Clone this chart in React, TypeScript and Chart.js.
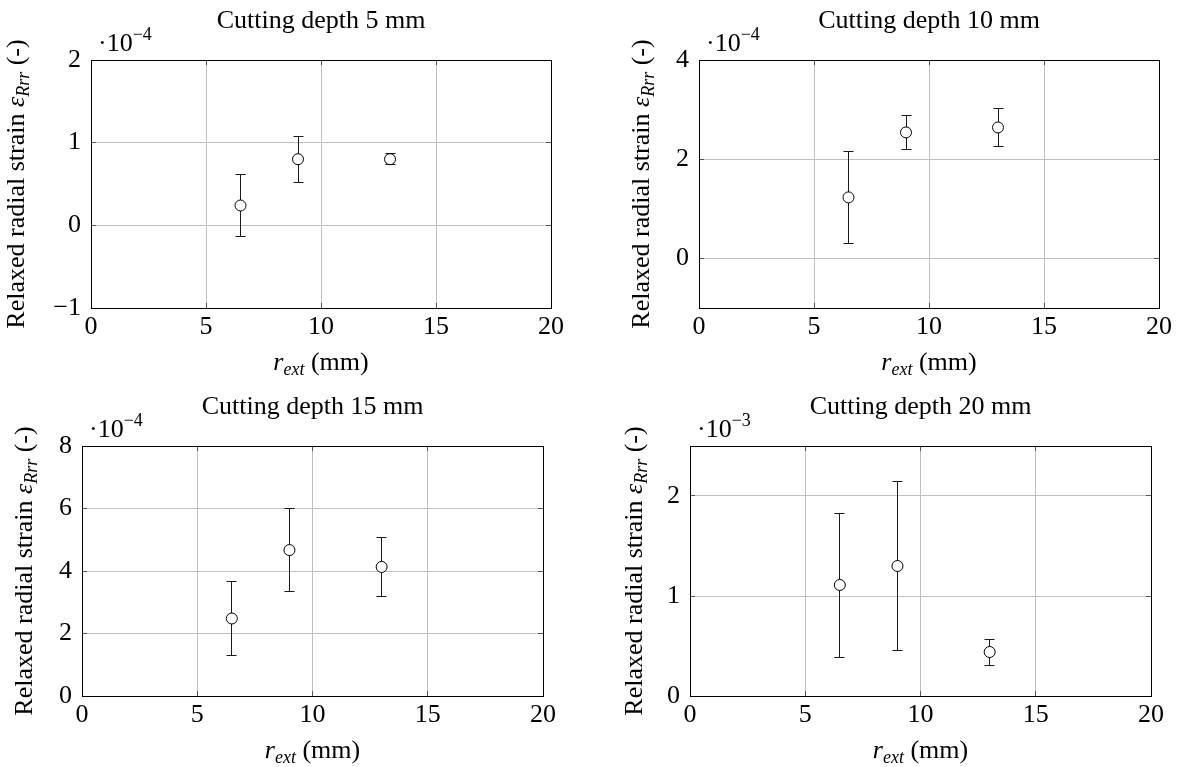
import { useEffect, useRef } from "react";
import { Chart, registerables } from "chart.js";

Chart.register(...registerables);

// ---------------- data ----------------
const radiusPositions = [6.5, 9, 13]; // r_ext (mm)
const xTickValues = [0, 5, 10, 15, 20];

const depthTitles = [
  "Cutting depth 5 mm",
  "Cutting depth 10 mm",
  "Cutting depth 15 mm",
  "Cutting depth 20 mm",
];

// strain values in units of 10^exponent
const depth5Strain = [0.24, 0.8, 0.8];
const depth5Error = [0.375, 0.28, 0.068];
const depth10Strain = [1.23, 2.54, 2.64];
const depth10Error = [0.925, 0.34, 0.385];
const depth15Strain = [2.48, 4.67, 4.13];
const depth15Error = [1.18, 1.32, 0.94];
const depth20Strain = [1.11, 1.3, 0.44];
const depth20Error = [0.72, 0.84, 0.13];

const strainExponents = [-4, -4, -4, -3];

const yTicks5 = [-1, 0, 1, 2];
const yTicks10 = [0, 2, 4];
const yTicks15 = [0, 2, 4, 6, 8];
const yTicks20 = [0, 1, 2];

const yRange5 = [-1, 2];
const yRange10 = [-1, 4];
const yRange15 = [0, 8];
const yRange20 = [0, 2.5];

// ---------------- layout / style ----------------
const FAMILY = '"Liberation Serif", "Times New Roman", Times, serif';
const FS = 26;
const SUB = 18;

type Area = { left: number; top: number; right: number; bottom: number };
type PanelDef = {
  title: string;
  values: number[];
  errors: number[];
  exponent: number;
  yTicks: number[];
  yRange: number[];
  canvasLeft: number;
  canvasTop: number;
  w: number;
  h: number;
  area: Area;
  yLabelOffset: number;
};

const panels: PanelDef[] = [
  {
    title: depthTitles[0], values: depth5Strain, errors: depth5Error, exponent: strainExponents[0],
    yTicks: yTicks5, yRange: yRange5, canvasLeft: 0, canvasTop: 0, w: 591, h: 384,
    area: { left: 91, top: 60, right: 551, bottom: 308 }, yLabelOffset: 67,
  },
  {
    title: depthTitles[1], values: depth10Strain, errors: depth10Error, exponent: strainExponents[1],
    yTicks: yTicks10, yRange: yRange10, canvasLeft: 591, canvasTop: 0, w: 591, h: 384,
    area: { left: 108, top: 60, right: 568, bottom: 308 }, yLabelOffset: 50,
  },
  {
    title: depthTitles[2], values: depth15Strain, errors: depth15Error, exponent: strainExponents[2],
    yTicks: yTicks15, yRange: yRange15, canvasLeft: 0, canvasTop: 384, w: 591, h: 383,
    area: { left: 82, top: 62, right: 543, bottom: 312 }, yLabelOffset: 50,
  },
  {
    title: depthTitles[3], values: depth20Strain, errors: depth20Error, exponent: strainExponents[3],
    yTicks: yTicks20, yRange: yRange20, canvasLeft: 591, canvasTop: 384, w: 591, h: 383,
    area: { left: 99, top: 62, right: 560, bottom: 312 }, yLabelOffset: 48,
  },
];

const Y_SCALE_W = 60;
const X_SCALE_H = 40;

type Part = { text: string; size: number; italic?: boolean; dy?: number };

function fontOf(p: Part) {
  return `${p.italic ? "italic " : ""}${p.size}px ${FAMILY}`;
}

function drawParts(ctx: CanvasRenderingContext2D, parts: Part[], x: number, y: number, center: boolean) {
  ctx.textAlign = "left";
  ctx.textBaseline = "alphabetic";
  let total = 0;
  const widths = parts.map((p) => {
    ctx.font = fontOf(p);
    const w = ctx.measureText(p.text).width;
    total += w;
    return w;
  });
  let cx = center ? x - total / 2 : x;
  parts.forEach((p, i) => {
    ctx.font = fontOf(p);
    ctx.fillText(p.text, cx, y + (p.dy || 0));
    cx += widths[i];
  });
}

const align = (p: number) => Math.round(p - 0.5) + 0.5;

function fmt(v: number) {
  return v < 0 ? "\u2212" + Math.abs(v) : String(v);
}

function makeDecor(def: PanelDef) {
  return {
    id: "panelDecor",
    beforeDatasetsDraw(chart: any) {
      const ctx: CanvasRenderingContext2D = chart.ctx;
      const xs = chart.scales.x;
      const ys = chart.scales.y;
      ctx.save();
      ctx.strokeStyle = "#1a1a1a";
      ctx.lineWidth = 1;
      def.values.forEach((v, i) => {
        const px = align(xs.getPixelForValue(radiusPositions[i]));
        const pt = ys.getPixelForValue(v + def.errors[i]);
        const pb = ys.getPixelForValue(v - def.errors[i]);
        ctx.beginPath();
        ctx.moveTo(px, pt);
        ctx.lineTo(px, pb);
        ctx.moveTo(px - 5, align(pt));
        ctx.lineTo(px + 5, align(pt));
        ctx.moveTo(px - 5, align(pb));
        ctx.lineTo(px + 5, align(pb));
        ctx.stroke();
      });
      ctx.restore();
    },
    afterDraw(chart: any) {
      const ctx: CanvasRenderingContext2D = chart.ctx;
      const a = chart.chartArea;
      const xs = chart.scales.x;
      const ys = chart.scales.y;
      ctx.save();
      // inner tick marks
      ctx.strokeStyle = "#555";
      ctx.lineWidth = 1;
      ctx.beginPath();
      xTickValues.forEach((t) => {
        const px = align(xs.getPixelForValue(t));
        ctx.moveTo(px, a.bottom);
        ctx.lineTo(px, a.bottom - 5);
        ctx.moveTo(px, a.top);
        ctx.lineTo(px, a.top + 5);
      });
      def.yTicks.forEach((t) => {
        const py = align(ys.getPixelForValue(t));
        ctx.moveTo(a.left, py);
        ctx.lineTo(a.left + 5, py);
        ctx.moveTo(a.right, py);
        ctx.lineTo(a.right - 5, py);
      });
      ctx.stroke();
      // frame
      ctx.strokeStyle = "#000";
      ctx.lineWidth = 1;
      const l = align(a.left), r = align(a.right), t = align(a.top), b = align(a.bottom);
      ctx.strokeRect(l, t, r - l, b - t);

      ctx.fillStyle = "#000";
      const cx = (a.left + a.right) / 2;
      // title
      drawParts(ctx, [{ text: def.title, size: FS }], cx, a.top - 32, true);
      // exponent
      drawParts(
        ctx,
        [
          { text: "\u00b710", size: FS },
          { text: (def.exponent < 0 ? "\u2212" : "") + Math.abs(def.exponent), size: SUB, dy: -11 },
        ],
        a.left + 7,
        a.top - 9,
        false
      );
      // x label
      drawParts(
        ctx,
        [
          { text: "r", size: FS, italic: true },
          { text: "ext", size: SUB, italic: true, dy: 5 },
          { text: " (mm)", size: FS },
        ],
        cx,
        a.bottom + 62,
        true
      );
      // y label
      ctx.translate(a.left - def.yLabelOffset, (a.top + a.bottom) / 2);
      ctx.rotate(-Math.PI / 2);
      drawParts(
        ctx,
        [
          { text: "Relaxed radial strain ", size: FS },
          { text: "\u03b5", size: FS, italic: true },
          { text: "Rrr", size: SUB, italic: true, dy: 5 },
          { text: " (-)", size: FS },
        ],
        0,
        0,
        true
      );
      ctx.restore();
    },
  };
}

function Panel({ def }: { def: PanelDef }) {
  const ref = useRef<HTMLCanvasElement | null>(null);
  useEffect(() => {
    if (!ref.current) return;
    const chart = new Chart(ref.current, {
      type: "scatter",
      data: {
        datasets: [
          {
            data: radiusPositions.map((x, i) => ({ x, y: def.values[i] })),
            showLine: false,
            pointRadius: 5.5,
            pointHoverRadius: 5.5,
            pointBackgroundColor: "#ffffff",
            pointBorderColor: "#000000",
            pointBorderWidth: 1,
          },
        ],
      },
      options: {
        responsive: false,
        animation: false,
        events: [],
        layout: {
          padding: {
            left: def.area.left - Y_SCALE_W,
            top: def.area.top,
            right: def.w - def.area.right,
            bottom: def.h - def.area.bottom - X_SCALE_H,
          },
        },
        plugins: {
          legend: { display: false },
          title: { display: false },
          tooltip: { enabled: false },
        },
        scales: {
          x: {
            type: "linear",
            min: 0,
            max: 20,
            afterBuildTicks: (s: any) => {
              s.ticks = xTickValues.map((v) => ({ value: v }));
            },
            afterFit: (s: any) => {
              s.height = X_SCALE_H;
            },
            grid: { color: "#bfbfbf", lineWidth: 1, drawTicks: false },
            border: { display: false },
            ticks: {
              padding: 4,
              color: "#000",
              font: { family: FAMILY, size: FS },
              maxRotation: 0,
              autoSkip: false,
              callback: (v: any) => fmt(Number(v)),
            },
          },
          y: {
            type: "linear",
            min: def.yRange[0],
            max: def.yRange[1],
            afterBuildTicks: (s: any) => {
              s.ticks = def.yTicks.map((v) => ({ value: v }));
            },
            afterFit: (s: any) => {
              s.width = Y_SCALE_W;
            },
            grid: { color: "#bfbfbf", lineWidth: 1, drawTicks: false },
            border: { display: false },
            ticks: {
              padding: 10,
              color: "#000",
              font: { family: FAMILY, size: FS },
              autoSkip: false,
              callback: (v: any) => fmt(Number(v)),
            },
          },
        },
      },
      plugins: [makeDecor(def)],
    } as any);
    return () => chart.destroy();
  }, [def]);
  return (
    <canvas
      ref={ref}
      width={def.w}
      height={def.h}
      style={{ position: "absolute", left: def.canvasLeft, top: def.canvasTop, width: def.w, height: def.h }}
    />
  );
}

export default function App() {
  return (
    <div
      style={{
        position: "fixed",
        left: 0,
        top: 0,
        width: 1182,
        height: 767,
        background: "#ffffff",
        overflow: "hidden",
      }}
    >
      {panels.map((p, i) => (
        <Panel key={i} def={p} />
      ))}
    </div>
  );
}
